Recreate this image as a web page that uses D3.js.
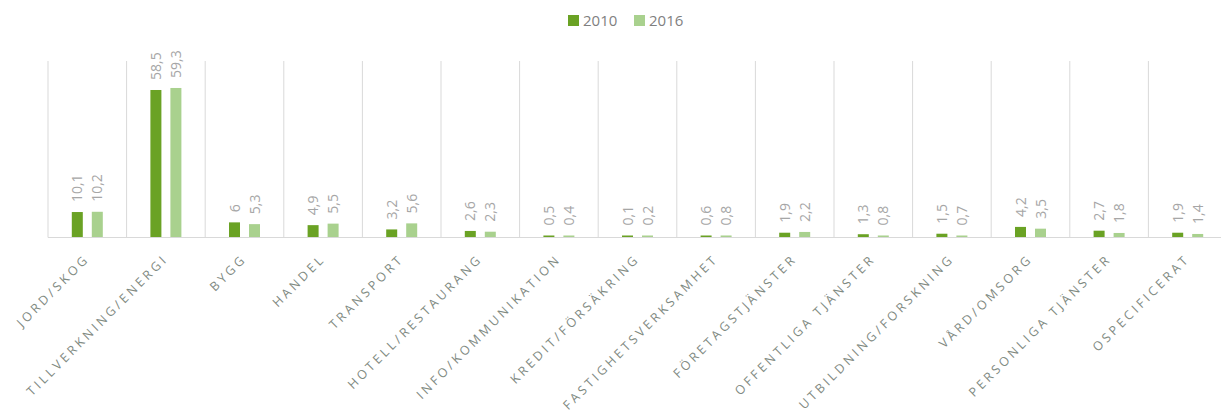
<!DOCTYPE html>
<html>
<head>
<meta charset="utf-8">
<script src="https://cdn.jsdelivr.net/npm/d3@7"></script>
<style>
  body { margin: 0; background: #fff; }
  svg { display: block; font-family: "Open Sans", "Liberation Sans", sans-serif; }
</style>
</head>
<body>
<svg id="chart" width="1221" height="420"></svg>
<script>
// kategorier och värden
var categories = ['JORD/SKOG', 'TILLVERKNING/ENERGI', 'BYGG', 'HANDEL', 'TRANSPORT',
  'HOTELL/RESTAURANG', 'INFO/KOMMUNIKATION', 'KREDIT/FÖRSÄKRING', 'FASTIGHETSVERKSAMHET',
  'FÖRETAGSTJÄNSTER', 'OFFENTLIGA TJÄNSTER', 'UTBILDNING/FORSKNING', 'VÅRD/OMSORG',
  'PERSONLIGA TJÄNSTER', 'OSPECIFICERAT'];
var seriesNames = ['2010', '2016'];
var values2010 = [10.1, 58.5, 6, 4.9, 3.2, 2.6, 0.5, 0.1, 0.6, 1.9, 1.3, 1.5, 4.2, 2.7, 1.9];
var values2016 = [10.2, 59.3, 5.3, 5.5, 5.6, 2.3, 0.4, 0.2, 0.8, 2.2, 0.8, 0.7, 3.5, 1.8, 1.4];
var colors = ['#6aa224', '#a9d18e'];

var svg = d3.select('#chart');

var margin = { top: 61, left: 48 };
var plotRight = 1227;
var plotBottom = 237.5;

var x = d3.scaleBand()
  .domain(categories)
  .range([margin.left, plotRight])
  .paddingInner(0)
  .paddingOuter(0);

var bw = x.bandwidth();
var xSub = d3.scaleBand()
  .domain(seriesNames)
  .range([bw / 2 - 15.5, bw / 2 + 15.5])
  .paddingInner(0.45);

var y = d3.scaleLinear()
  .domain([0, 70])
  .range([plotBottom, margin.top]);

var rows = categories.map(function(c, i) {
  return { cat: c, vals: [values2010[i], values2016[i]] };
});

// vertikala avgränsare
var seps = categories.map(function(c) { return x(c); });
svg.append('g')
  .selectAll('line')
  .data(seps)
  .enter()
  .append('line')
  .attr('x1', function(d) { return d; })
  .attr('x2', function(d) { return d; })
  .attr('y1', y(70))
  .attr('y2', y(0))
  .attr('stroke', '#d9d9d9')
  .attr('stroke-width', 1);

// staplar
var groups = svg.append('g')
  .selectAll('g')
  .data(rows)
  .enter()
  .append('g')
  .attr('transform', function(d) { return 'translate(' + x(d.cat) + ',0)'; });

// små värden syns som en tunn stapel (minst 2px)
function barTop(v) {
  return Math.min(y(v), y(0) - 2);
}

groups.selectAll('rect')
  .data(function(d) {
    return d.vals.map(function(v, i) { return { s: seriesNames[i], v: v, i: i }; });
  })
  .enter()
  .append('rect')
  .attr('x', function(d) { return xSub(d.s); })
  .attr('width', xSub.bandwidth())
  .attr('y', function(d) { return barTop(d.v); })
  .attr('height', function(d) { return y(0) - barTop(d.v); })
  .attr('fill', function(d) { return colors[d.i]; });

// värdeetiketter (roterade)
groups.selectAll('text')
  .data(function(d) {
    return d.vals.map(function(v, i) { return { s: seriesNames[i], v: v }; });
  })
  .enter()
  .append('text')
  .attr('transform', function(d) {
    var cx = xSub(d.s) + xSub.bandwidth() / 2 + 5;
    return 'translate(' + cx + ',' + (barTop(d.v) - 10) + ') rotate(-90)';
  })
  .attr('font-size', 14)
  .attr('fill', '#a6a6a6')
  .text(function(d) { return String(d.v).replace('.', ','); });

// baslinje
svg.append('line')
  .attr('x1', margin.left)
  .attr('x2', plotRight)
  .attr('y1', y(0))
  .attr('y2', y(0))
  .attr('stroke', '#d9d9d9');

// x-axel
var xAxis = svg.append('g')
  .attr('transform', 'translate(0,' + (plotBottom + 22) + ')')
  .call(d3.axisBottom(x).tickSize(0).tickPadding(0));
xAxis.select('.domain').remove();
xAxis.selectAll('text')
  .attr('font-family', '"Open Sans", sans-serif')
  .attr('font-size', 12.5)
  .attr('letter-spacing', '3.2px')
  .attr('fill', '#7f8a82')
  .attr('text-anchor', 'end')
  .attr('dy', 0)
  .attr('transform', 'translate(3,0) rotate(-45)');

// legend
var legend = svg.append('g');
var legX = [568, 634];
seriesNames.forEach(function(s, i) {
  legend.append('rect')
    .attr('x', legX[i])
    .attr('y', 15)
    .attr('width', 11)
    .attr('height', 11)
    .attr('fill', colors[i]);
  legend.append('text')
    .attr('x', legX[i] + 15)
    .attr('y', 26)
    .attr('font-size', 15)
    .attr('fill', '#7f7f7f')
    .text(s);
});
</script>
</body>
</html>
